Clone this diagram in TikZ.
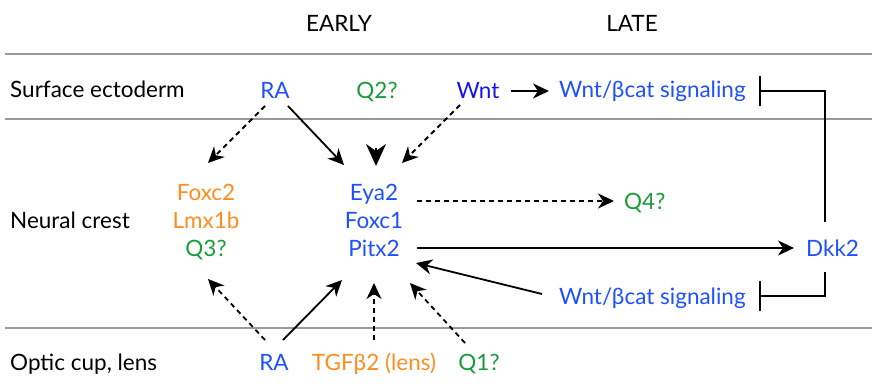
\documentclass[tikz,border=0pt]{standalone}
\usepackage{fontspec}
\setmainfont{Lato}
\usetikzlibrary{arrows.meta}
\definecolor{cblue}{RGB}{30,80,255}
\definecolor{cwnt}{RGB}{20,20,230}
\definecolor{corange}{RGB}{255,140,30}
\definecolor{cgreen}{RGB}{25,155,60}
\tikzset{
  lbl/.style={font=\fontsize{22.5}{26}\selectfont, inner sep=0pt, anchor=base},
  lbll/.style={lbl, anchor=base west},
  grayline/.style={draw=black!40, line width=1.8pt},
  act/.style={draw=black, line width=1.8pt, -{Stealth[length=16pt,width=15pt,inset=5pt]}},
  bigact/.style={draw=black, line width=1.8pt, -{Stealth[length=22pt,width=20pt,inset=7pt]}},
  dact/.style={act, dash pattern=on 5pt off 4pt},
  inh/.style={draw=black, line width=1.8pt, -{Bar[width=30pt]}},
}
\begin{document}
\begin{tikzpicture}[x=1pt,y=-1pt]
\useasboundingbox (0,0) rectangle (872,388);
% gray lines
\coordinate (g1l) at (5,54); \coordinate (g1r) at (872,54);
\coordinate (g2l) at (5,119); \coordinate (g2r) at (872,119);
\coordinate (g3l) at (5,328); \coordinate (g3r) at (872,328);
\draw[grayline] (g1l) -- (g1r);
\draw[grayline] (g2l) -- (g2r);
\draw[grayline] (g3l) -- (g3r);
% headings
\node[lbl] (early) at (339,31) {EARLY};
\node[lbl] (late) at (632,31) {LATE};
% row labels
\node[lbll] (se) at (10,97) {Surface ectoderm};
\node[lbll] (nc) at (10,228) {Neural crest};
\node[lbll] (oc) at (10,370) {Optic cup, lens};
% surface ectoderm
\node[lbl, text=cblue] (raT) at (275,98) {RA};
\node[lbl, text=cgreen] (q2) at (377,98) {Q2?};
\node[lbl, text=cwnt] (wnt) at (478,98) {Wnt};
\node[lbll, text=cblue] (wbT) at (559,97) {Wnt/βcat signaling};
% neural crest
\node[lbl, text=corange] (foxc2) at (206,200) {Foxc2};
\node[lbl, text=corange] (lmx) at (206,228) {Lmx1b};
\node[lbl, text=cgreen] (q3) at (206,256) {Q3?};
\node[lbl, text=cblue] (eya) at (374,200) {Eya2};
\node[lbl, text=cblue] (foxc1) at (374,228) {Foxc1};
\node[lbl, text=cblue] (pitx) at (374,256) {Pitx2};
\node[lbll, text=cgreen] (q4) at (624,209) {Q4?};
\node[lbll, text=cblue] (dkk) at (806,256) {Dkk2};
\node[lbll, text=cblue] (wbB) at (559,304) {Wnt/βcat signaling};
% optic cup
\node[lbl, text=cblue] (raB) at (274,370) {RA};
\node[lbl, text=corange] (tgf) at (374,370) {TGFβ2 (lens)};
\node[lbl, text=cgreen] (q1) at (479,370) {Q1?};
% coordinates
\coordinate (a1s) at (265,106); \coordinate (a1e) at (208,163);
\coordinate (a2s) at (288,106); \coordinate (a2e) at (344,165);
\coordinate (a3s) at (376,148); \coordinate (a3e) at (376,166);
\coordinate (a4s) at (460,105); \coordinate (a4e) at (402,163);
\coordinate (w1s) at (511,91); \coordinate (w1e) at (549,91);
\coordinate (q4s) at (417,201); \coordinate (q4e) at (614,201);
\coordinate (pds) at (417,248); \coordinate (pde) at (794,248);
\coordinate (wps) at (542,294); \coordinate (wpe) at (416,263);
\coordinate (b1s) at (265,340); \coordinate (b1e) at (208,279);
\coordinate (b2s) at (283,340); \coordinate (b2e) at (342,280);
\coordinate (b3s) at (374,340); \coordinate (b3e) at (374,283);
\coordinate (b4s) at (465,343); \coordinate (b4e) at (410,283);
\coordinate (dtop) at (825,222); \coordinate (dbot) at (825,272);
\coordinate (ctr) at (825,91); \coordinate (cbr) at (825,296);
\coordinate (it) at (759,91); \coordinate (ib) at (759,296);
% arrows
\draw[dact] (a1s) -- (a1e);
\draw[act] (a2s) -- (a2e);
\draw[bigact] (a3s) -- (a3e);
\draw[dact] (a4s) -- (a4e);
\draw[act] (w1s) -- (w1e);
\draw[dact] (q4s) -- (q4e);
\draw[act] (pds) -- (pde);
\draw[act] (wps) -- (wpe);
\draw[dact] (b1s) -- (b1e);
\draw[act] (b2s) -- (b2e);
\draw[dact] (b3s) -- (b3e);
\draw[dact] (b4s) -- (b4e);
\draw[inh] (dtop) -- (ctr) -- (it);
\draw[inh] (dbot) -- (cbr) -- (ib);
\end{tikzpicture}
\end{document}
